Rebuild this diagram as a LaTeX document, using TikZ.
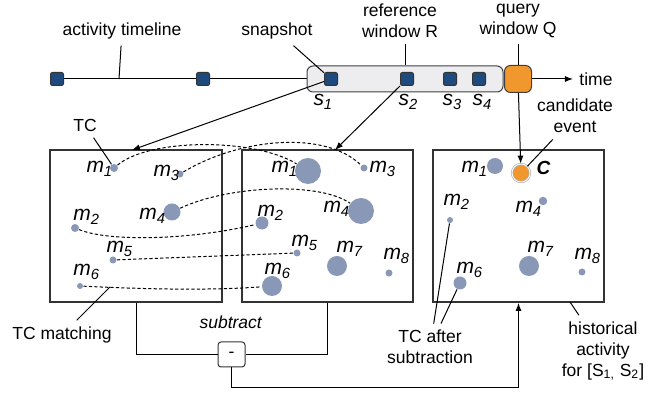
\documentclass[tikz,border=0pt]{standalone}
\usepackage{fontspec}
\setmainfont{Liberation Sans}
\usetikzlibrary{arrows.meta}
\definecolor{C0}{HTML}{1F4A7E}
\definecolor{C1}{HTML}{F0982E}
\definecolor{C2}{HTML}{8A98B8}
\definecolor{C3}{HTML}{EDEDF0}

\newcommand{\mlab}[1]{\textit{m\textsubscript{#1}}}
\newcommand{\slab}[1]{\textit{s\textsubscript{#1}}}

\tikzset{
  snapbox/.style={draw=black!80, fill=C0, rounded corners=1pt, minimum size=6.5pt, inner sep=0pt},
  tc/.style={circle, fill=C2, inner sep=0pt, minimum size=#1},
  sym/.style={anchor=base west, inner sep=0pt, font=\fontsize{10.5}{12}\selectfont},
  txt/.style={inner sep=3pt, align=center},
  pane/.style={draw=black!80, line width=0.6pt, inner sep=0pt},
  match/.style={dash pattern=on 1.6pt off 1.1pt, line width=0.5pt},
  arr/.style={-{Latex[length=4pt,width=3pt]}},
}

\begin{document}
\begin{tikzpicture}[x=0.5pt, y=-0.5pt, line width=0.5pt, font=\fontsize{8.75}{10.5}\selectfont]

\useasboundingbox (0,0) rectangle (660,394);

% timeline
\node[snapbox] (t1) at (57,79) {};
\node[snapbox] (t2) at (203,79) {};
\coordinate (tl) at (119,79);
\draw (t1) -- (t2);
\draw (t2.east) -- (320,79) coordinate (tr);
\node[draw=black!75, fill=C3, rounded corners=3pt, minimum width=98pt, minimum height=13pt, inner sep=0pt] (rwin) at (405,79) {};
\node[draw=black!75, fill=C1, rounded corners=3pt, minimum size=13.5pt, inner sep=0pt] (qwin) at (518,79) {};
\node[snapbox] (s1) at (331,79) {};
\node[snapbox] (s2) at (407,79) {};
\node[snapbox] (s3) at (450,79) {};
\node[snapbox] (s4) at (479,79) {};
\node[txt] (time) at (596,79) {time};
\draw[arr] (qwin) -- (time);

\node[sym] at (313,106) {\slab{1}};
\node[sym] at (398,106) {\slab{2}};
\node[sym] at (442,106) {\slab{3}};
\node[sym] at (472,106) {\slab{4}};

% labels on top
\node[txt] (atl) at (122,31) {activity timeline};
\node[txt] (snp) at (277,31) {snapshot};
\node[txt] (refw) at (400,21) {reference\\window R};
\node[txt] (qlbl) at (518,21) {query\\window Q};
\draw (atl) -- (tl);
\draw (snp) -- (s1);
\draw (refw.south -| rwin.north) -- (rwin.north);
\draw (qlbl.south) -- (qwin.north);

% the three panes
\node[pane, minimum width=86pt, minimum height=76pt] (lbox) at (136,226) {};
\node[pane, minimum width=85.5pt, minimum height=76pt] (mbox) at (327.5,226) {};
\node[pane, line width=0.9pt, minimum width=85.5pt, minimum height=76pt] (rbox) at (518.5,226) {};

% left pane (s1)
\node[tc=4pt] (l1) at (114,168) {};
\node[tc=3.5pt] (l3) at (180,174) {};
\node[tc=8.5pt] (l4) at (172,212) {};
\node[tc=4pt] (l2) at (75,228) {};
\node[tc=3.5pt] (l5) at (113,260) {};
\node[tc=3pt] (l6) at (80,286) {};
\node[sym] at (86,173) {\mlab{1}};
\node[sym] at (153,177) {\mlab{3}};
\node[sym] at (139,220) {\mlab{4}};
\node[sym] at (73,221) {\mlab{2}};
\node[sym] at (106,253) {\mlab{5}};
\node[sym] at (73,276) {\mlab{6}};

% middle pane (s2)
\node[tc=13pt] (c1) at (308,171) {};
\node[tc=3.5pt] (c3) at (364,168) {};
\node[tc=13pt] (c4) at (361,211) {};
\node[tc=6.5pt] (c2) at (262,223) {};
\node[tc=3.5pt] (c5) at (297,253) {};
\node[tc=10pt] (c7) at (337,266) {};
\node[tc=3.5pt] (c8) at (389,273) {};
\node[tc=10pt] (c6) at (272,286) {};
\node[sym] at (271,173) {\mlab{1}};
\node[sym] at (369,173) {\mlab{3}};
\node[sym] at (323,213) {\mlab{4}};
\node[sym] at (257,217) {\mlab{2}};
\node[sym] at (291,247) {\mlab{5}};
\node[sym] at (336,253) {\mlab{7}};
\node[sym] at (383,260) {\mlab{8}};
\node[sym] at (264,275) {\mlab{6}};

% right pane (query)
\node[tc=8pt] (r1) at (495,166) {};
\node[tc=4.25pt] (r4) at (543,201) {};
\node[tc=3pt] (r2) at (450,220) {};
\node[tc=10pt] (r7) at (529,266) {};
\node[tc=3.5pt] (r8) at (582,272) {};
\node[tc=6.5pt] (r6) at (460,283) {};
\node[circle, fill=C1, draw=gray!60, double=white, double distance=0.4pt, line width=0.35pt, inner sep=0pt, minimum size=9pt] (cand) at (521,173) {};
\node[sym] at (461,173) {\mlab{1}};
\node[sym] at (443,206) {\mlab{2}};
\node[sym] at (515,213) {\mlab{4}};
\node[sym] at (527,253) {\mlab{7}};
\node[sym] at (574,260) {\mlab{8}};
\node[sym] at (456,274) {\mlab{6}};
\node[sym, font=\fontsize{9.5}{12}\selectfont] (clbl) at (536,175) {\textbf{\textit{C}}};

% TC matching
\draw[match] (l1) .. controls (150,138) and (255,138) .. (c1);
\draw[match] (l3) .. controls (240,138) and (325,130) .. (c3);
\draw[match] (l4) .. controls (230,185) and (320,182) .. (c4);
\draw[match] (l2) .. controls (110,242) and (190,240) .. (c2);
\draw[match] (l5) -- (c5);
\draw[match] (l6) .. controls (160,290) and (220,290) .. (c6);

% snapshots into panes
\coordinate (lin) at (132,150);
\coordinate (min) at (335,150);
\draw[arr] (s1) -- (lin);
\draw[arr] (s2.south west) -- (min);
\draw[arr] (qwin) -- (cand);

% subtract
\node[draw=black!80, rounded corners=1.5pt, minimum width=13.5pt, minimum height=12.5pt, inner sep=0pt] (minus) at (231.5,354.5) {-};
\node[txt] (sub) at (231,322) {\textit{subtract}};
\draw (lbox.south) |- (minus.west);
\draw (mbox.south) |- (minus.east);
\draw[arr] (minus.south) -- ++(0,20) -| (rbox.south);

% annotations
\node[txt] (tcl) at (85,125) {TC};
\draw (tcl) -- (l1);
\coordinate (tcm_pt) at (110,287);
\node[txt] (tcm) at (62,335) {TC matching};
\draw (tcm) -- (tcm_pt);
\node[txt] (cnd) at (575,116) {candidate\\event};
\draw (cnd) -- (cand);
\node[txt] (tca) at (430,347) {TC after\\subtraction};
\draw (tca) -- (r2);
\draw (tca) -- (r6);
\coordinate (hist_pt) at (570,302);
\node[txt] (hist) at (603,351) {historical\\activity\\for [S\textsubscript{1,} S\textsubscript{2}]};
\draw (hist) -- (hist_pt);

\end{tikzpicture}
\end{document}
